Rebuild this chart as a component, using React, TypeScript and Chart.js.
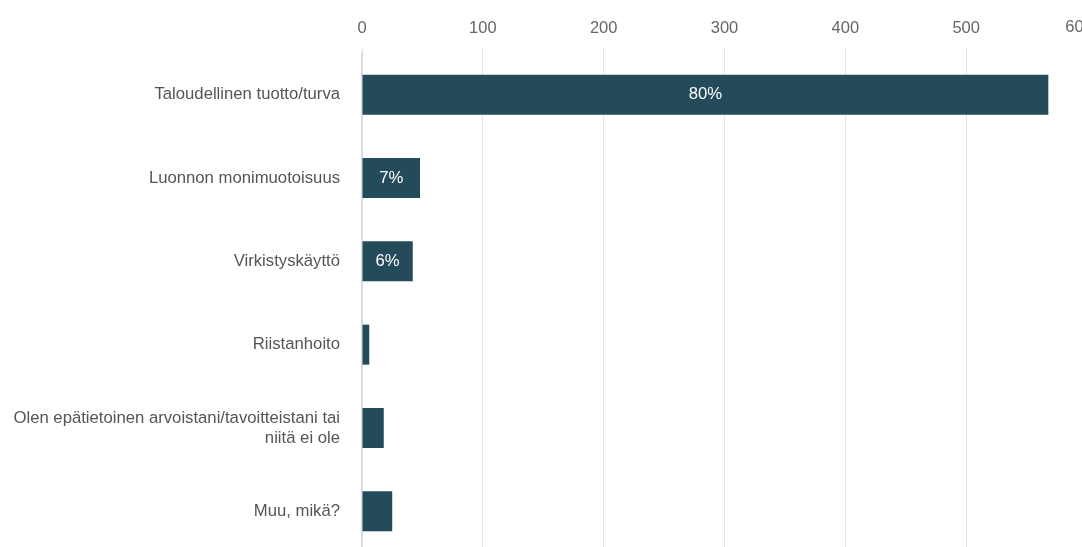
import React, { useEffect, useRef } from "react";
import { Chart, registerables } from "chart.js";

Chart.register(...registerables);

const categories: (string | string[])[] = [
  "Taloudellinen tuotto/turva",
  "Luonnon monimuotoisuus",
  "Virkistyskäyttö",
  "Riistanhoito",
  ["Olen epätietoinen arvoistani/tavoitteistani tai", "niitä ei ole"],
  "Muu, mikä?",
];
const counts = [568, 48, 42, 6, 18, 25];
const xTicks = [0, 100, 200, 300, 400, 500, 600];

const FONT = "'Liberation Sans', Arial, sans-serif";
const W = 1101;
const H = 577;

export default function App() {
  const ref = useRef<HTMLCanvasElement | null>(null);

  useEffect(() => {
    document.body.style.margin = "0";
    document.body.style.overflow = "hidden";
    const total = counts.reduce((a, b) => a + b, 0);
    const labelPlugin = {
      id: "barLabels",
      afterDatasetsDraw(chart: any) {
        const ctx = chart.ctx;
        const meta = chart.getDatasetMeta(0);
        ctx.save();
        ctx.font = `16.7px ${FONT}`;
        ctx.fillStyle = "#ffffff";
        ctx.textAlign = "center";
        ctx.textBaseline = "middle";
        meta.data.forEach((bar: any, i: number) => {
          const pct = Math.round((counts[i] / total) * 100) + "%";
          const w = bar.x - bar.base;
          const tw = ctx.measureText(pct).width;
          if (w > tw + 16) {
            ctx.fillText(pct, (bar.x + bar.base) / 2, bar.y);
          }
        });
        ctx.restore();
      },
      afterDraw(chart: any) {
        // last tick label is pulled inward so it stays (mostly) inside the frame
        const ctx = chart.ctx;
        const xs = chart.scales.x;
        const last = xTicks[xTicks.length - 1];
        ctx.save();
        ctx.font = `16.5px ${FONT}`;
        ctx.fillStyle = "#666666";
        ctx.textAlign = "center";
        ctx.textBaseline = "middle";
        ctx.fillText(String(last), xs.getPixelForValue(last) - 8, 27);
        ctx.restore();
      },
    };
    const chart = new Chart(ref.current!, {
      type: "bar",
      data: {
        labels: categories,
        datasets: [
          {
            data: counts,
            backgroundColor: "#234b5a",
            borderWidth: 0,
            barPercentage: 0.48,
            categoryPercentage: 1,
          },
        ],
      },
      options: {
        indexAxis: "y",
        animation: false,
        responsive: false,
        maintainAspectRatio: false,
        layout: { padding: { top: 0, right: 14, bottom: 7, left: 0 } },
        plugins: { legend: { display: false }, tooltip: { enabled: false } },
        scales: {
          x: {
            position: "top",
            min: 0,
            max: 600,
            afterBuildTicks(axis: any) {
              axis.ticks = xTicks.map((v) => ({ value: v }));
            },
            afterFit(axis: any) {
              axis.height = 53;
            },
            ticks: {
              color: "#666666",
              font: { family: FONT, size: 16.5 },
              padding: 10,
              callback: (v: any) => (v === xTicks[xTicks.length - 1] ? "" : String(v)),
            },
            grid: {
              color: "#e4e4e4",
              drawTicks: true,
              tickLength: 5,
            },
            border: { display: false },
          },
          y: {
            afterFit(axis: any) {
              axis.width = 362;
            },
            ticks: {
              color: "#555555",
              font: { family: FONT, size: 16.7 },
              padding: 14,
            },
            grid: { display: false },
            border: { display: true, color: "#d6dde6", width: 2 },
          },
        },
      },
      plugins: [labelPlugin],
    });
    return () => chart.destroy();
  }, []);

  return (
    <div style={{ position: "absolute", left: 0, top: 0, width: W, height: H }}>
      <canvas ref={ref} width={W} height={H} style={{ width: W, height: H }} />
    </div>
  );
}
